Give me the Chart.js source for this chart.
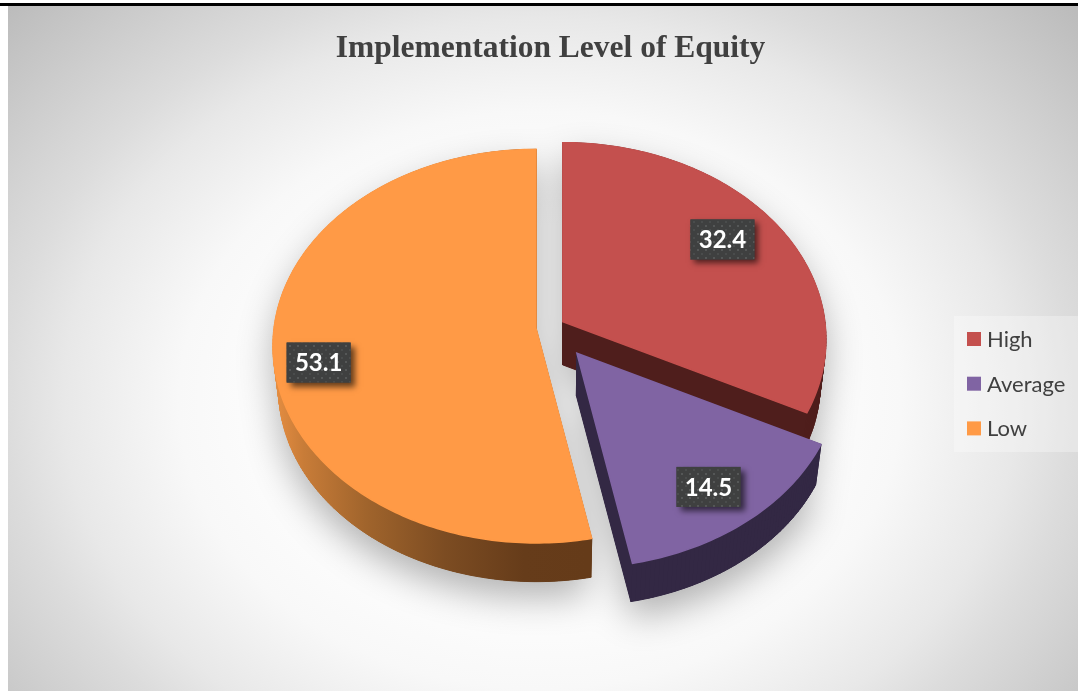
<!DOCTYPE html>
<html>
<head>
<meta charset="utf-8">
<title>Implementation Level of Equity</title>
<script src="https://cdn.jsdelivr.net/npm/chart.js@4"></script>
<style>
  html, body { margin: 0; padding: 0; background: #fff; }
  canvas { display: block; }
</style>
</head>
<body>
<canvas id="pie" width="1078" height="691"></canvas>
<script>
const categories = ['High', 'Average', 'Low'];
const shares = [32.4, 14.5, 53.1];
const explode = [14.5, 43.6, 14.5];
const sliceColors = ['#c4504e', '#8064a3', '#ff9a46'];
const sideColors = ['#4f1e1c', '#332844', null];
const labelDistance = [0.77, 0.8, 0.835];
const labelTurn = [-3, 1, -6.3];
const chartTitle = 'Implementation Level of Equity';

// flattening and perspective of the tilted pie
const squash = 0.745;
const persp = 0.09;
const depth = 43;
const depthShrink = 0.98;

function project(el, angle, r) {
  const u = Math.cos(angle) * r, v = Math.sin(angle) * r;
  const p = 1 - persp * v;
  return { x: el.outerRadius * u / p, y: el.outerRadius * squash * v / p };
}

function sliceShape(el, offset) {
  const mid = (el.startAngle + el.endAngle) / 2;
  const ax = el.x + offset * Math.cos(mid);
  const ay = el.y + offset * Math.sin(mid) * squash;
  const top = [{ x: ax, y: ay }];
  const steps = Math.ceil((el.endAngle - el.startAngle) * 60);
  for (let i = 0; i <= steps; i++) {
    const a = el.startAngle + (el.endAngle - el.startAngle) * i / steps;
    const q = project(el, a, 1);
    top.push({ x: ax + q.x, y: ay + q.y });
  }
  const bottom = top.map(q => ({
    x: el.x + (q.x - el.x) * depthShrink,
    y: el.y + (q.y - el.y) * depthShrink + depth
  }));
  return { top, bottom, ax, ay };
}

function addPoly(ctx, pts) {
  pts.forEach((q, i) => i ? ctx.lineTo(q.x, q.y) : ctx.moveTo(q.x, q.y));
  ctx.closePath();
}

function tracePoly(ctx, pts) {
  ctx.beginPath();
  addPoly(ctx, pts);
}

function orangeSide(ctx) {
  const g = ctx.createLinearGradient(272, 0, 587, 0);
  g.addColorStop(0, '#e88f42');
  g.addColorStop(0.1, '#c87c38');
  g.addColorStop(0.3, '#a0642c');
  g.addColorStop(0.55, '#7c4c22');
  g.addColorStop(0.8, '#663c1a');
  g.addColorStop(1, '#653b19');
  return g;
}

function labelPattern(ctx) {
  const c = document.createElement('canvas');
  c.width = 8; c.height = 8;
  const p = c.getContext('2d');
  p.fillStyle = '#3f4040';
  p.fillRect(0, 0, 8, 8);
  p.fillStyle = '#555757';
  p.fillRect(1, 1, 2, 2);
  p.fillStyle = '#4a4c4c';
  p.fillRect(5, 5, 2, 2);
  return ctx.createPattern(c, 'repeat');
}

const equityPlugin = {
  id: 'equityPie',
  beforeDraw(chart) {
    const ctx = chart.ctx, W = chart.width, H = chart.height;
    ctx.save();
    ctx.fillStyle = '#fff';
    ctx.fillRect(0, 0, W, H);
    ctx.save();
    ctx.beginPath();
    ctx.rect(8, 6, W - 8, H - 6);
    ctx.clip();
    ctx.translate(540, 400);
    ctx.scale(1, 0.8);
    const g = ctx.createRadialGradient(0, 0, 0, 0, 0, 722);
    g.addColorStop(0, '#ffffff');
    g.addColorStop(0.3, '#ffffff');
    g.addColorStop(0.5, '#f8f8f8');
    g.addColorStop(0.66, '#e8e8e8');
    g.addColorStop(0.74, '#dcdcdc');
    g.addColorStop(1, '#bcbcbc');
    ctx.fillStyle = g;
    ctx.fillRect(-700, -700, 1400, 1400);
    ctx.restore();
    ctx.fillStyle = '#000';
    ctx.fillRect(0, 3, W, 3);
    ctx.restore();
  },
  beforeDatasetDraw(chart, args) {
    const ctx = chart.ctx;
    const arcs = chart.getDatasetMeta(args.index).data;
    const shapes = arcs.map((el, i) => sliceShape(el, explode[i]));
    ctx.save();
    // one soft shadow for the whole pie, the shape itself sits off the canvas
    ctx.save();
    ctx.shadowColor = 'rgba(0,0,0,0.3)';
    ctx.shadowBlur = 36;
    ctx.shadowOffsetX = 3000;
    ctx.shadowOffsetY = 16;
    ctx.translate(-3000, 0);
    ctx.fillStyle = '#000';
    ctx.beginPath();
    shapes.forEach(s => {
      addPoly(ctx, s.top);
      addPoly(ctx, s.bottom);
    });
    ctx.fill('nonzero');
    ctx.restore();
    [2, 0, 1].forEach(i => {
      const s = shapes[i];
      const side = sideColors[i] || orangeSide(ctx);
      ctx.fillStyle = side;
      ctx.strokeStyle = side;
      ctx.lineWidth = 1;
      tracePoly(ctx, s.bottom);
      ctx.fill();
      const n = s.top.length;
      for (let k = 0; k < n; k++) {
        const j = (k + 1) % n;
        tracePoly(ctx, [s.top[k], s.top[j], s.bottom[j], s.bottom[k]]);
        ctx.fill();
        ctx.stroke();
      }
      ctx.fillStyle = sliceColors[i];
      ctx.strokeStyle = sliceColors[i];
      ctx.lineWidth = 1.5;
      tracePoly(ctx, s.top);
      ctx.fill();
      ctx.stroke();
    });
    ctx.restore();
    return false;
  },
  afterDatasetsDraw(chart) {
    const ctx = chart.ctx;
    const arcs = chart.getDatasetMeta(0).data;
    const pattern = labelPattern(ctx);
    ctx.save();
    arcs.forEach((el, i) => {
      const s = sliceShape(el, explode[i]);
      const mid = (el.startAngle + el.endAngle) / 2 + labelTurn[i] * Math.PI / 180;
      const q = project(el, mid, labelDistance[i]);
      const x = s.ax + q.x, y = s.ay + q.y;
      ctx.save();
      ctx.shadowColor = 'rgba(0,0,0,0.6)';
      ctx.shadowBlur = 6;
      ctx.shadowOffsetX = 4;
      ctx.shadowOffsetY = 4;
      ctx.fillStyle = '#3f4040';
      ctx.fillRect(x - 32, y - 20, 64, 40);
      ctx.restore();
      ctx.fillStyle = pattern;
      ctx.fillRect(x - 32, y - 20, 64, 40);
      ctx.fillStyle = '#fff';
      ctx.font = 'bold 24px Lato';
      ctx.textAlign = 'center';
      ctx.textBaseline = 'middle';
      ctx.fillText(shares[i].toFixed(1), x, y + 1);
    });
    // legend panel
    ctx.fillStyle = 'rgba(255,255,255,0.3)';
    ctx.fillRect(954, 316, 124, 136);
    ctx.font = '22px Lato';
    ctx.textAlign = 'left';
    ctx.textBaseline = 'middle';
    categories.forEach((name, i) => {
      const y = 339 + i * 44.7;
      ctx.fillStyle = sliceColors[i];
      ctx.fillRect(967, y - 7, 14, 14);
      ctx.fillStyle = '#404040';
      ctx.fillText(name, 987, y + 1);
    });
    ctx.restore();
  }
};

new Chart(document.getElementById('pie'), {
  type: 'pie',
  data: {
    labels: categories,
    datasets: [{ label: 'Implementation level', data: shares, backgroundColor: sliceColors }]
  },
  options: {
    responsive: false,
    animation: false,
    radius: 262,
    layout: { padding: { left: 148, right: 125, top: 0, bottom: 104 } },
    plugins: {
      legend: { display: false },
      tooltip: { enabled: false },
      title: {
        display: true,
        text: chartTitle,
        fullSize: false,
        color: '#404040',
        font: { family: 'Liberation Serif', size: 31.5, weight: 'bold' },
        padding: { top: 30, bottom: 0 }
      }
    }
  },
  plugins: [equityPlugin]
});
</script>
</body>
</html>
